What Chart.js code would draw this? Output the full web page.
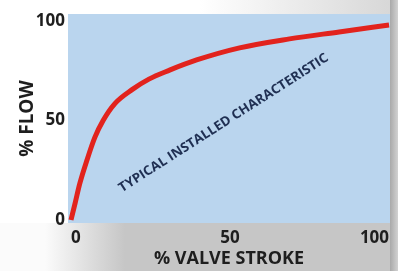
<!DOCTYPE html>
<html>
<head>
<meta charset="utf-8">
<script src="https://cdn.jsdelivr.net/npm/chart.js@4.4.1/dist/chart.umd.min.js"></script>
<style>
	html, body { margin: 0; padding: 0; background: #fff; }
	#wrap { width: 398px; height: 271px; position: relative; }
</style>
</head>
<body>
<div id="wrap"><canvas id="canvas01"></canvas></div>
<script>
// valve stroke (%) and flow (%)
var strokeArray = [0, 1.3, 2.8, 5.0, 7.5, 10.1, 13.8, 19.2, 24.5, 31, 39.5, 53, 68.7, 84.3, 100];
var flowArray = [0, 8.5, 18.5, 30, 41.5, 50, 58.5, 65.5, 70.8, 75.3, 80.4, 86.5, 91, 94.5, 98];
var tickArray = [0, 50, 100];
var noteText = 'TYPICAL INSTALLED CHARACTERISTIC';

const fondo_plot = {
	id: 'fondo_plot',
	beforeDraw(chart, args, options) {
		const { ctx, width, height, chartArea: { left, top, right, bottom } } = chart;
		ctx.save();
		ctx.fillStyle = '#ffffff';
		ctx.fillRect(0, 0, width, height);

		// gray band under the plot
		var g = ctx.createLinearGradient(45, 0, 125, 0);
		g.addColorStop(0, '#fbfbfb');
		g.addColorStop(1, '#c6c6c6');
		ctx.fillStyle = g;
		ctx.fillRect(0, bottom, width, height - bottom);

		// light gray above the plot, right side
		var g2 = ctx.createLinearGradient(200, 0, width, 0);
		g2.addColorStop(0, '#ffffff');
		g2.addColorStop(1, '#d6d6d6');
		ctx.fillStyle = g2;
		ctx.fillRect(left, 0, width - left, top);

		// shadow on the right
		var g3 = ctx.createLinearGradient(right, 0, width, 0);
		g3.addColorStop(0, '#a9a9a9');
		g3.addColorStop(1, '#d2d2d2');
		ctx.fillStyle = g3;
		ctx.fillRect(right, 0, width - right, height);

		ctx.fillStyle = options.colorbg;
		ctx.fillRect(left, top, right - left, bottom - top);
		ctx.restore();
	}
};

const texto_nota = {
	id: 'texto_nota',
	afterDatasetsDraw(chart, args, options) {
		const { ctx, scales: { x, y } } = chart;
		ctx.save();
		ctx.translate(x.getPixelForValue(48), y.getPixelForValue(48.7));
		ctx.rotate(-32.6 * Math.PI / 180);
		ctx.font = 'bold 12px "Open Sans"';
		ctx.fillStyle = '#1f2f52';
		ctx.textAlign = 'center';
		ctx.textBaseline = 'middle';
		var w = ctx.measureText(noteText).width;
		ctx.scale(246 / w, 1.1);
		ctx.fillText(noteText, 0, 0);
		ctx.restore();
	}
};

var config01 = {
	type: 'line',
	data: {
		datasets: [{
			label: 'flow',
			data: strokeArray.map(function (v, i) { return { x: v, y: flowArray[i] }; }),
			borderColor: '#e2231d',
			borderWidth: 5,
			pointRadius: 0,
			cubicInterpolationMode: 'monotone',
			fill: false,
		}]
	},
	options: {
		responsive: false,
		animation: false,
		layout: {
			padding: { top: 14, right: 8, left: 0, bottom: 0 }
		},
		plugins: {
			legend: { display: false },
			tooltip: { enabled: false },
			fondo_plot: { colorbg: '#bad5ee' },
		},
		scales: {
			x: {
				type: 'linear',
				min: -0.94,
				max: 100.3,
				afterBuildTicks: function (scale) {
					scale.ticks = tickArray.map(function (v) { return { value: v }; });
				},
				afterFit: function (scale) { scale.height = 48; },
				grid: { display: false, drawTicks: false },
				border: { display: false },
				ticks: {
					align: 'inner',
					padding: 5,
					maxRotation: 0,
					color: '#1e1e1e',
					font: { family: 'Open Sans', weight: 'bold', size: 17 },
				},
				title: {
					display: true,
					text: '% VALVE STROKE',
					color: '#1e1e1e',
					padding: { top: 0, bottom: 1 },
					font: { family: 'Open Sans', weight: 'bold', size: 18 },
				}
			},
			y: {
				min: -1.5,
				max: 103.5,
				afterBuildTicks: function (scale) {
					scale.ticks = tickArray.map(function (v) { return { value: v }; });
				},
				afterFit: function (scale) { scale.width = 68; },
				grid: { display: false, drawTicks: false },
				border: { display: false },
				ticks: {
					padding: 3,
					color: '#1e1e1e',
					font: { family: 'Open Sans', weight: 'bold', size: 17 },
				},
				title: {
					display: true,
					text: '% FLOW',
					color: '#1e1e1e',
					padding: { top: 16, bottom: 0 },
					font: { family: 'Open Sans', weight: 'bold', size: 19 },
				}
			}
		}
	},
	plugins: [fondo_plot, texto_nota]
};

var canvas01 = document.getElementById('canvas01');
canvas01.width = 398;
canvas01.height = 271;
var graf_curva = new Chart(canvas01.getContext('2d'), config01);
</script>
</body>
</html>
